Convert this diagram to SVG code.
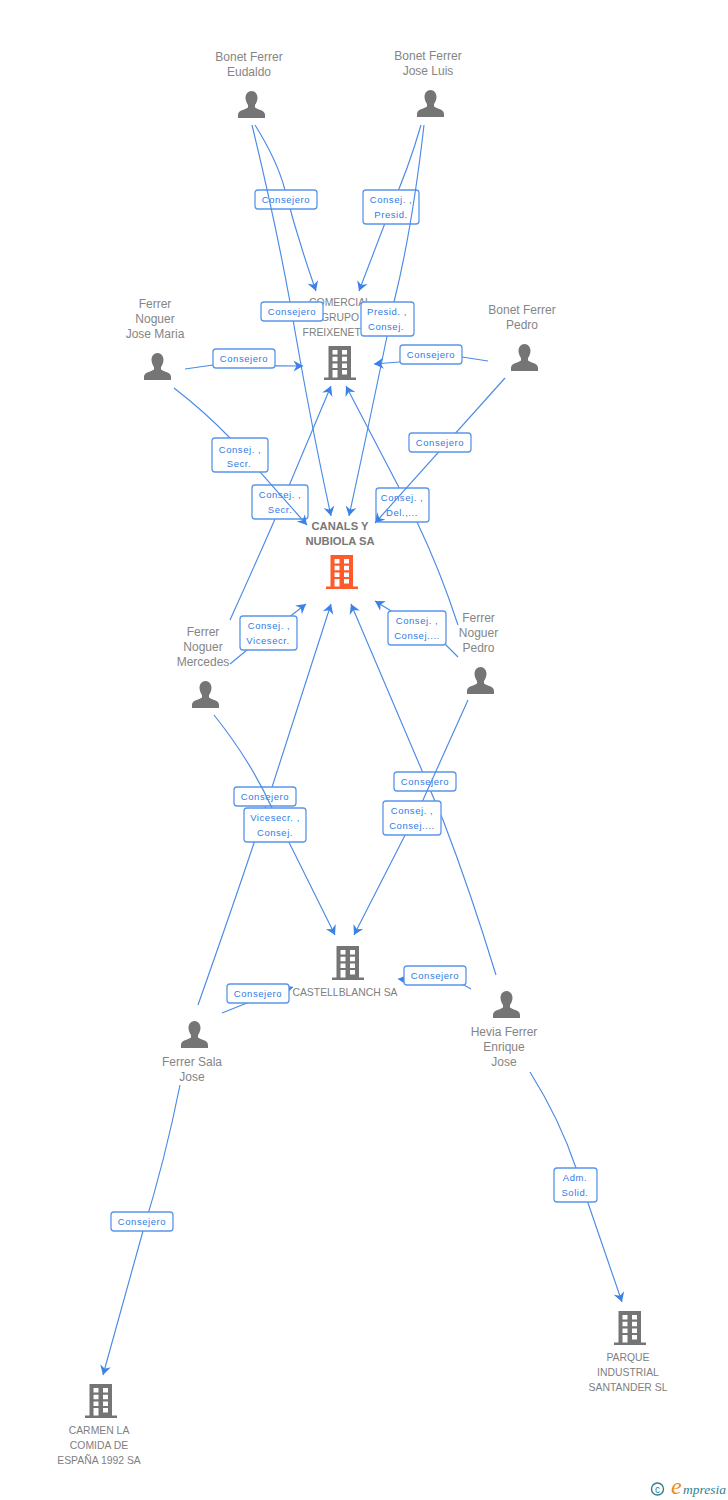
<svg xmlns="http://www.w3.org/2000/svg" width="728" height="1500" viewBox="0 0 728 1500">
<style>
text{font-family:"Liberation Sans",Arial,sans-serif}
.n{font-size:12px;fill:#858585;text-anchor:middle}
.c{font-size:10.4px;fill:#808080;text-anchor:middle}
.b{font-size:11.2px;fill:#777;font-weight:700;text-anchor:middle}
.l{font-size:9.5px;fill:#2f7be6;text-anchor:middle;letter-spacing:.55px}
.e{fill:none;stroke:#4a8ae8;stroke-width:1.15;marker-end:url(#a)}
.r{fill:#fff;stroke:#5a95ea;stroke-width:1.3}
</style>
<defs>
<marker id="a" markerUnits="userSpaceOnUse" markerWidth="13" markerHeight="13" refX="10" refY="6.500" orient="auto">
<path d="M10 6.500L0.500 1L3.500 6.500L0.500 12Z" fill="#3b82e6"/>
</marker>
<symbol id="p" viewBox="0 0 27 27" overflow="visible"><path d="M13.500 0C10 0 7.500 3 7.500 6.800C7.500 10 9 12.500 10 14L10 16.500C7 19 0 19 0 24L0 27L27 27L27 24C27 19 20 19 17 16.500L17 14C18 12.500 19.500 10 19.500 6.800C19.500 3 17 0 13.500 0Z"/></symbol>
<symbol id="h" viewBox="0 0 32 34" overflow="visible"><path fill-rule="evenodd" d="M4.500 0H27V31.500H32V34H0V31.500H4.500ZM8.500 4V8.500H13.500V4ZM18 4V8.500H23V4ZM8.500 10.700V15.200H13.500V10.700ZM18 10.700V15.200H23V10.700ZM8.500 17.400V21.900H13.500V17.400ZM18 17.400V21.900H23V17.400ZM8.500 24V31.500H13.500V24ZM18 24V28.500H23V24Z"/></symbol>
</defs>
<g id="n1" fill="#757575"><use href="#p" x="238" y="91" width="27" height="27"/><text class="n" x="249" y="61">Bonet Ferrer</text><text class="n" x="249" y="76">Eudaldo</text></g>
<g id="n2" fill="#757575"><use href="#p" x="417" y="90" width="27" height="27"/><text class="n" x="428" y="60">Bonet Ferrer</text><text class="n" x="428" y="75">Jose Luis</text></g>
<g id="n3" fill="#757575"><use href="#p" x="144" y="353" width="27" height="27"/><text class="n" x="155" y="308">Ferrer</text><text class="n" x="155" y="323">Noguer</text><text class="n" x="155" y="338">Jose Maria</text></g>
<g id="n4" fill="#757575"><use href="#p" x="511" y="344" width="27" height="27"/><text class="n" x="522" y="314">Bonet Ferrer</text><text class="n" x="522" y="329">Pedro</text></g>
<g id="n5" fill="#757575"><use href="#p" x="192" y="681" width="27" height="27"/><text class="n" x="203" y="636">Ferrer</text><text class="n" x="203" y="651">Noguer</text><text class="n" x="203" y="666">Mercedes</text></g>
<g id="n6" fill="#757575"><use href="#p" x="467" y="667" width="27" height="27"/><text class="n" x="478.500" y="622">Ferrer</text><text class="n" x="478.500" y="637">Noguer</text><text class="n" x="478.500" y="652">Pedro</text></g>
<g id="n7" fill="#757575"><use href="#p" x="181" y="1021" width="27" height="27"/><text class="n" x="192" y="1066">Ferrer Sala</text><text class="n" x="192" y="1081">Jose</text></g>
<g id="n8" fill="#757575"><use href="#p" x="493" y="991" width="27" height="27"/><text class="n" x="504" y="1036">Hevia Ferrer</text><text class="n" x="504" y="1051">Enrique</text><text class="n" x="504" y="1066">Jose</text></g>
<g id="c1" fill="#757575"><use href="#h" x="324" y="346" width="32" height="34"/><text class="c" x="340" y="306">COMERCIAL</text><text class="c" x="340" y="321">GRUPO</text><text class="c" x="340" y="336">FREIXENET SA</text></g>
<g id="c2" fill="#ff5a2b"><use href="#h" x="326" y="555" width="32" height="34"/><text class="b" x="340" y="530">CANALS Y</text><text class="b" x="340" y="545">NUBIOLA SA</text></g>
<g id="c3" fill="#757575"><use href="#h" x="332" y="946" width="32" height="34"/><text class="c" x="345" y="996">CASTELLBLANCH SA</text></g>
<g id="c4" fill="#757575"><use href="#h" x="614" y="1311" width="32" height="34"/><text class="c" x="628" y="1361">PARQUE</text><text class="c" x="628" y="1376">INDUSTRIAL</text><text class="c" x="628" y="1391">SANTANDER SL</text></g>
<g id="c5" fill="#757575"><use href="#h" x="85" y="1384" width="32" height="34"/><text class="c" x="99" y="1434">CARMEN LA</text><text class="c" x="99" y="1449">COMIDA DE</text><text class="c" x="99" y="1464">ESPAÑA 1992 SA</text></g>
<g id="connectors">
<path class="e" d="M255 125Q277 160 285 190Q298 240 316 291"/>
<rect class="r" x="255" y="190" width="62" height="19" rx="3"/><text class="l" x="286" y="203">Consejero</text>
<path class="e" d="M421 125Q408 170 390 210L359 291"/>
<rect class="r" x="363" y="190" width="56" height="34" rx="3"/><text class="l" x="391" y="203">Consej. ,</text><text class="l" x="391" y="218">Presid.</text>
<path class="e" d="M252 125Q275 220 290 302Q310 420 331 516"/>
<rect class="r" x="261" y="302" width="62" height="19" rx="3"/><text class="l" x="292" y="315">Consejero</text>
<path class="e" d="M424 125Q412 230 394 302Q370 420 349 516"/>
<rect class="r" x="361" y="302" width="53" height="34" rx="3"/><text class="l" x="387" y="315">Presid. ,</text><text class="l" x="386" y="330">Consej.</text>
<path class="e" d="M185 369L213 365Q260 366 303 366"/>
<rect class="r" x="213" y="349" width="62" height="19" rx="3"/><text class="l" x="244" y="362">Consejero</text>
<path class="e" d="M488 361L462 357L374 364"/>
<rect class="r" x="400" y="345" width="62" height="19" rx="3"/><text class="l" x="431" y="358">Consejero</text>
<path class="e" d="M230 620Q255 565 275 519L331 386"/>
<rect class="r" x="252" y="485" width="56" height="34" rx="3"/><text class="l" x="280" y="498">Consej. ,</text><text class="l" x="280" y="513">Secr.</text>
<path class="e" d="M458 625Q440 570 417 522L346 386"/>
<rect class="r" x="376" y="488" width="53" height="34" rx="3"/><text class="l" x="402" y="501">Consej. ,</text><text class="l" x="402" y="516">Del.,...</text>
<path class="e" d="M174 388Q205 412 230 438L307 525"/>
<rect class="r" x="212" y="438" width="56" height="34" rx="3"/><text class="l" x="240" y="453">Consej. ,</text><text class="l" x="239" y="467">Secr.</text>
<path class="e" d="M505 378L375 523"/>
<rect class="r" x="409" y="433" width="62" height="19" rx="3"/><text class="l" x="440" y="446">Consejero</text>
<path class="e" d="M230 664L247 650L306 604"/>
<rect class="r" x="240" y="616" width="57" height="34" rx="3"/><text class="l" x="269" y="629">Consej. ,</text><text class="l" x="268" y="644">Vicesecr.</text>
<path class="e" d="M458 657L446 645L375 601"/>
<rect class="r" x="388" y="611" width="58" height="34" rx="3"/><text class="l" x="417" y="624">Consej. ,</text><text class="l" x="417" y="639">Consej....</text>
<path class="e" d="M198 1005Q235 900 255 840L331 604"/>
<rect class="r" x="234" y="787" width="62" height="19" rx="3"/><text class="l" x="265" y="800">Consejero</text>
<path class="e" d="M214 715Q250 760 272 808L335 935"/>
<rect class="r" x="244" y="808" width="62" height="34" rx="3"/><text class="l" x="275" y="821">Vicesecr. ,</text><text class="l" x="275" y="836">Consej.</text>
<path class="e" d="M496 975Q470 890 443 820L351 604"/>
<rect class="r" x="394" y="772" width="62" height="19" rx="3"/><text class="l" x="425" y="785">Consejero</text>
<path class="e" d="M468 700L423 800L354 935"/>
<rect class="r" x="383" y="801" width="58" height="34" rx="3"/><text class="l" x="412" y="814">Consej. ,</text><text class="l" x="412" y="829">Consej....</text>
<path class="e" d="M222 1013L247 1003L293 987"/>
<rect class="r" x="227" y="984" width="62" height="19" rx="3"/><text class="l" x="258" y="997">Consejero</text>
<path class="e" d="M471 989L464 985L398 979"/>
<rect class="r" x="404" y="966" width="62" height="19" rx="3"/><text class="l" x="435" y="979">Consejero</text>
<path class="e" d="M180 1085Q165 1160 143 1231L103 1375"/>
<rect class="r" x="111" y="1212" width="62" height="19" rx="3"/><text class="l" x="142" y="1225">Consejero</text>
<path class="e" d="M530 1072Q560 1120 576 1168L622 1302"/>
<rect class="r" x="554" y="1168" width="43" height="34" rx="3"/><text class="l" x="575" y="1181">Adm.</text><text class="l" x="575" y="1196">Solid.</text>
</g>
<g id="logo"><circle cx="657.500" cy="1489" r="6" fill="none" stroke="#2f7f95" stroke-width="1.400"/><text x="657.500" y="1492.500" font-size="10" fill="#2f7f95" text-anchor="middle">c</text><text x="671" y="1494" font-size="24" font-style="italic" fill="#f08a1d" style="font-family:'Liberation Serif',serif">e</text><text x="683" y="1494" font-size="13.500" font-style="italic" fill="#2f7f95" style="font-family:'Liberation Serif',serif">mpresia</text></g>
</svg>
